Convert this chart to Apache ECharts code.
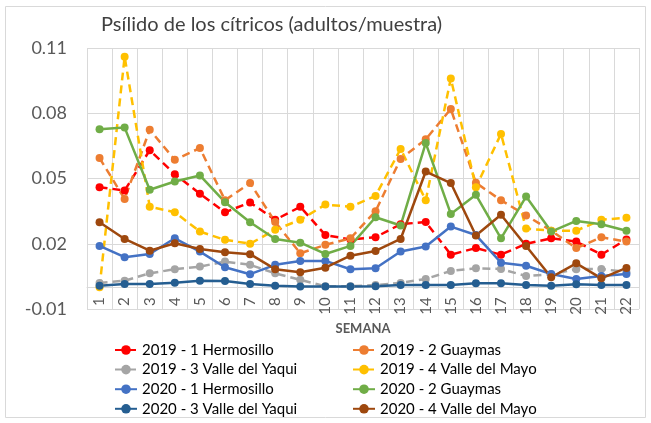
<!DOCTYPE html>
<html>
<head>
<meta charset="utf-8">
<script src="https://cdn.jsdelivr.net/npm/echarts@6/dist/echarts.min.js"></script>
<style>html,body{margin:0;padding:0;background:#fff}#c{width:651px;height:423px}</style>
</head>
<body>
<div id="c"></div>
<script>
const weeks = ['1','2','3','4','5','6','7','8','9','10','11','12','13','14','15','16','17','18','19','20','21','22'];
const yTicks = [-0.01, 0.02, 0.05, 0.08, 0.11];
const title = 'Psílido de los cítricos (adultos/muestra)';
const xName = 'SEMANA';

const s2019_1 = [0.046, 0.0445, 0.063, 0.052, 0.043, 0.0345, 0.039, 0.031, 0.037, 0.024, 0.022, 0.023, 0.029, 0.030, 0.015, 0.018, 0.015, 0.020, 0.0225, 0.021, 0.015, 0.022];
const s2019_2 = [0.0594, 0.0406, 0.0724, 0.0586, 0.064, 0.040, 0.0479, 0.030, 0.0156, 0.0195, 0.0225, 0.035, 0.059, 0.068, 0.082, 0.048, 0.040, 0.033, 0.026, 0.018, 0.023, 0.021];
const s2019_3 = [0.002, 0.003, 0.0064, 0.0083, 0.0095, 0.0118, 0.0103, 0.0064, 0.0034, 0.0005, 0.0005, 0.001, 0.002, 0.0038, 0.0075, 0.0087, 0.0084, 0.0052, 0.006, 0.0083, 0.0084, 0.007];
const s2019_4 = [0.0, 0.106, 0.037, 0.0345, 0.0256, 0.0218, 0.020, 0.0264, 0.031, 0.038, 0.037, 0.042, 0.0636, 0.040, 0.096, 0.046, 0.0705, 0.027, 0.026, 0.026, 0.031, 0.032];
const s2020_1 = [0.019, 0.0138, 0.0153, 0.0225, 0.0164, 0.0092, 0.006, 0.0103, 0.0121, 0.0121, 0.0083, 0.0087, 0.0164, 0.0187, 0.0279, 0.024, 0.0113, 0.0099, 0.0061, 0.0038, 0.0052, 0.0061];
const s2020_2 = [0.0727, 0.0734, 0.0448, 0.0486, 0.0514, 0.0391, 0.0299, 0.0222, 0.0205, 0.0153, 0.019, 0.0322, 0.0284, 0.0663, 0.0337, 0.0425, 0.0225, 0.0417, 0.0256, 0.0305, 0.029, 0.026];
const s2020_3 = [0.0007, 0.0015, 0.0015, 0.0021, 0.003, 0.0029, 0.0015, 0.0007, 0.0003, 0.0003, 0.0004, 0.0005, 0.001, 0.001, 0.001, 0.0018, 0.0018, 0.001, 0.0007, 0.0014, 0.001, 0.001];
const s2020_4 = [0.0299, 0.0222, 0.0168, 0.0202, 0.0176, 0.0161, 0.0152, 0.0083, 0.0069, 0.009, 0.0145, 0.0167, 0.0222, 0.0532, 0.0479, 0.0238, 0.0333, 0.019, 0.0046, 0.011, 0.0041, 0.0089];

const seriesNames = ['2019 - 1 Hermosillo','2019 - 2 Guaymas','2019 - 3 Valle del Yaqui','2019 - 4 Valle del Mayo','2020 - 1 Hermosillo','2020 - 2 Guaymas','2020 - 3 Valle del Yaqui','2020 - 4 Valle del Mayo'];
const seriesData = [s2019_1, s2019_2, s2019_3, s2019_4, s2020_1, s2020_2, s2020_3, s2020_4];
const colors = ['#FF0000','#ED7D31','#A5A5A5','#FFC000','#4472C4','#70AD47','#255E91','#9E480E'];
const dashed = [true,true,true,true,false,false,false,false];

const FONT = 'Lato';
const chart = echarts.init(document.getElementById('c'), null, {renderer:'canvas'});

const series = seriesNames.map((n,i)=>({
  name:n, type:'line', data:seriesData[i],
  symbol:'circle', symbolSize:8,
  itemStyle:{color:colors[i]},
  lineStyle:{color:colors[i], width:2.5, type: dashed[i] ? [8,5] : 'solid'},
  emphasis:{disabled:true},
  animation:false
}));

const legendCommon = {
  orient:'vertical', itemWidth:22, itemHeight:12, itemGap:3.6, padding:0, height:120,
  textStyle:{fontFamily:FONT, fontSize:15, color:'#000', lineHeight:16},
  top:342
};

const gridTop = 48, gridBottomPx = 309;
const zeroOffset = -(gridBottomPx - (gridTop + (gridBottomPx - gridTop) * 0.11 / 0.12));

chart.setOption({
  animation:false,
  textStyle:{fontFamily:FONT},
  title:{text:title, left:96, top:10, textStyle:{fontFamily:FONT, fontSize:20, fontWeight:'normal', color:'#404040'}},
  graphic:[{type:'rect', shape:{x:5.5, y:6.5, width:640, height:411}, style:{fill:'none', stroke:'#d9d9d9', lineWidth:1}, silent:true, z:-1}],
  legend:[
    Object.assign({}, legendCommon, {left:114, data:[seriesNames[0],seriesNames[2],seriesNames[4],seriesNames[6]]}),
    Object.assign({}, legendCommon, {left:352, data:[seriesNames[1],seriesNames[3],seriesNames[5],seriesNames[7]]})
  ],
  grid:{left:87, right:12, top:gridTop, bottom:423 - gridBottomPx, containLabel:false},
  xAxis:[{
    type:'category', data:weeks, boundaryGap:true, position:'bottom',
    axisLine:{show:false, onZero:false},
    axisTick:{show:false},
    splitLine:{show:true, lineStyle:{color:'#d9d9d9', width:1}},
    axisLabel:{show:false}
  },{
    type:'category', data:weeks, boundaryGap:true, position:'bottom', offset:zeroOffset,
    axisLine:{show:true, onZero:false, lineStyle:{color:'#d9d9d9', width:1}},
    axisTick:{show:false},
    splitLine:{show:false},
    axisLabel:{rotate:90, margin:10, fontFamily:FONT, fontSize:15, color:'#595959', interval:0},
    name:xName, nameLocation:'middle', nameGap:33,
    nameTextStyle:{fontFamily:FONT, fontSize:13, fontWeight:'bold', color:'#595959'}
  }],
  yAxis:{
    type:'value', min:-0.01, max:0.11,
    axisLine:{show:false},
    axisTick:{show:false, customValues:yTicks},
    splitLine:{show:true, lineStyle:{color:'#d9d9d9', width:1}},
    axisLabel:{customValues:yTicks, margin:20, fontFamily:FONT, fontSize:18, color:'#595959', formatter:v=>v.toFixed(2)}
  },
  series:series
});
</script>
</body>
</html>
